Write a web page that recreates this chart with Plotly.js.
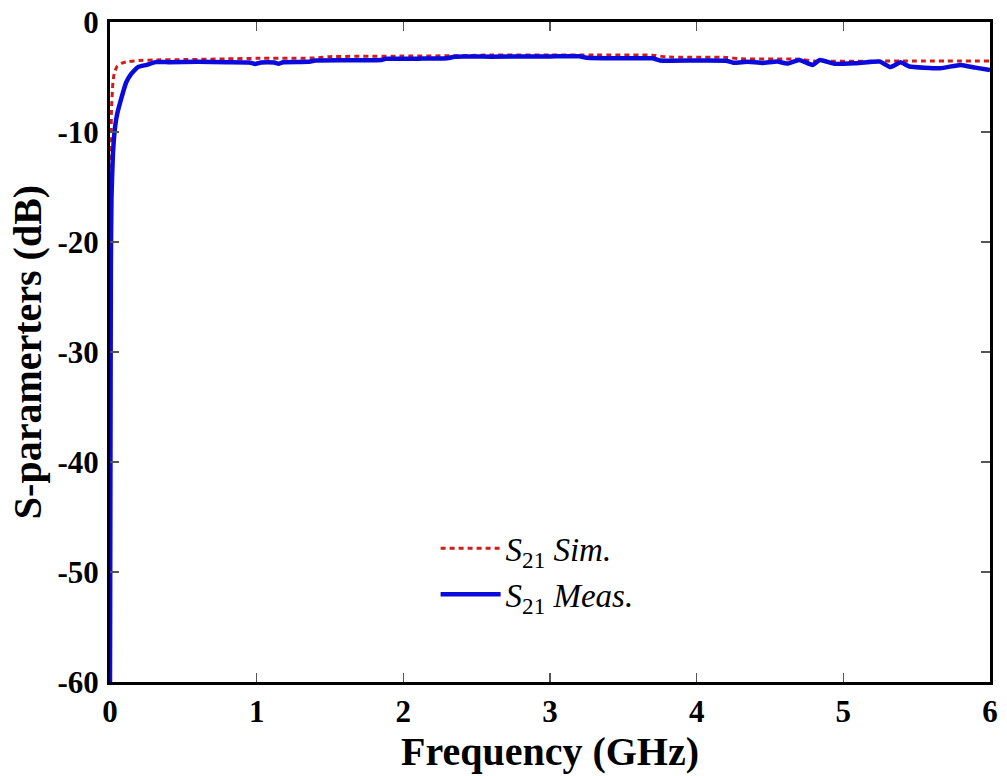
<!DOCTYPE html>
<html>
<head>
<meta charset="utf-8">
<script src="https://cdn.plot.ly/plotly-3.0.1.min.js"></script>
<style>html,body{margin:0;padding:0;background:#fff;}#chart{width:1007px;height:776px;}</style>
</head>
<body>
<div id="chart"></div>
<script>
// Frequency (GHz) and S21 (dB)
const simFreq = [0, 0.002, 0.004, 0.006, 0.01, 0.02, 0.03, 0.05, 0.08, 0.12, 0.2, 0.3, 0.5, 0.8, 1.0, 1.4, 1.5, 2.0, 2.4, 2.6, 3.0, 3.3, 3.7, 3.8, 4.2, 4.3, 4.7, 4.8, 5.4, 6.0];
const simS21 = [-60, -35, -18, -12, -8, -5.5, -4.6, -4.0, -3.75, -3.6, -3.5, -3.45, -3.42, -3.35, -3.3, -3.27, -3.15, -3.1, -3.06, -3.0, -3.0, -3.0, -3.02, -3.18, -3.22, -3.35, -3.38, -3.55, -3.55, -3.55];

const measFreq = [0, 0.003, 0.006, 0.01, 0.02, 0.035, 0.05, 0.08, 0.11, 0.14, 0.19, 0.25, 0.31, 0.4, 0.6, 0.8, 0.95, 0.99, 1.03, 1.12, 1.15, 1.18, 1.35, 1.4, 1.6, 1.85, 1.88, 2.1, 2.3, 2.35, 2.6, 3.0, 3.2, 3.25, 3.5, 3.7, 3.75, 4.0, 4.2, 4.25, 4.35, 4.45, 4.55, 4.62, 4.7, 4.79, 4.84, 4.94, 5.08, 5.25, 5.32, 5.39, 5.45, 5.66, 5.8, 5.9, 6.0];
const measS21 = [-60, -40, -22, -16, -12, -9.5, -8.3, -6.8, -5.5, -4.8, -4.1, -3.9, -3.65, -3.65, -3.62, -3.65, -3.68, -3.82, -3.68, -3.68, -3.8, -3.66, -3.62, -3.5, -3.48, -3.45, -3.35, -3.33, -3.3, -3.15, -3.15, -3.13, -3.12, -3.25, -3.3, -3.3, -3.5, -3.5, -3.52, -3.7, -3.62, -3.72, -3.6, -3.78, -3.45, -3.9, -3.45, -3.8, -3.75, -3.6, -4.1, -3.67, -4.05, -4.2, -3.9, -4.15, -4.36];

const xTickVals = [0, 1, 2, 3, 4, 5, 6];
const xTickText = ['0', '1', '2', '3', '4', '5', '6'];
const yTickVals = [0, -10, -20, -30, -40, -50, -60];
const yTickText = ['0', '-10', '-20', '-30', '-40', '-50', '-60'];

const simName = '<i>S</i><sub>21</sub> <i>Sim.</i>';
const measName = '<i>S</i><sub>21</sub> <i>Meas.</i>';

const fontFam = 'Liberation Serif, DejaVu Serif, serif';

const traces = [
  {x: simFreq, y: simS21, mode: 'lines', name: simName,
   line: {color: '#d01c1c', width: 3, dash: '5px,4px', shape: 'spline', smoothing: 0.5}},
  {x: measFreq, y: measS21, mode: 'lines', name: measName,
   line: {color: '#0a0adc', width: 4.5, shape: 'spline', smoothing: 0.4}}
];

const axisCommon = {
  showgrid: false, zeroline: false, showline: true, linecolor: '#000', linewidth: 3,
  mirror: 'ticks', ticks: 'inside', ticklen: 9, tickwidth: 1.2, tickcolor: '#555',
  tickfont: {family: fontFam, size: 31, color: '#000', weight: 700}
};

const layout = {
  width: 1007, height: 776,
  margin: {l: 110, r: 17, t: 22, b: 94},
  paper_bgcolor: '#fff', plot_bgcolor: '#fff',
  showlegend: true,
  legend: {x: 0.37, y: 0.245, xanchor: 'left', yanchor: 'top', bgcolor: 'rgba(0,0,0,0)',
           font: {family: fontFam, size: 33, color: '#000'}, itemwidth: 60, tracegroupgap: 0},
  xaxis: Object.assign({}, axisCommon, {
    range: [0, 6], tickmode: 'array', tickvals: xTickVals, ticktext: xTickText,
    title: {text: 'Frequency (GHz)', font: {family: fontFam, size: 40, color: '#000', weight: 700}, standoff: 6}
  }),
  yaxis: Object.assign({}, axisCommon, {
    range: [-60, 0], tickmode: 'array', tickvals: yTickVals, ticktext: yTickText, ticklabelstandoff: 2,
    title: {text: 'S-paramerters (dB)', font: {family: fontFam, size: 40, color: '#000', weight: 700}, standoff: 4}
  })
};

Plotly.newPlot('chart', traces, layout, {displayModeBar: false, staticPlot: true});
</script>
</body>
</html>
